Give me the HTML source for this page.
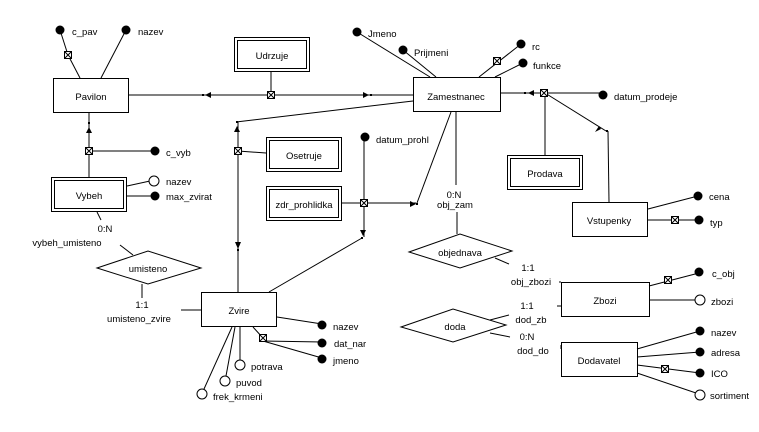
<!DOCTYPE html>
<html><head><meta charset="utf-8"><style>
html,body{margin:0;padding:0;background:#fff}
svg{display:block}
text{font-family:"Liberation Sans",sans-serif;font-size:9.5px;fill:#000}
</style></head><body>
<svg width="759" height="432" viewBox="0 0 759 432" xmlns="http://www.w3.org/2000/svg">
<defs>
<g id="k"><rect x="-3.5" y="-3.5" width="7" height="7"/><path d="M-3.5,-3.5L3.5,3.5M3.5,-3.5L-3.5,3.5" fill="none"/></g>
</defs>
<g stroke="#000" stroke-width="1" fill="none">
<rect x="53.5" y="78.5" width="75" height="34" fill="#fff"/>
<line x1="60" y1="30" x2="68" y2="55"/><line x1="68" y1="55" x2="80" y2="78"/>
<line x1="126" y1="30" x2="101" y2="78"/>
<rect x="234.5" y="37.5" width="75" height="34" fill="#fff"/>
<rect x="237.5" y="40.5" width="69" height="28"/>
<line x1="271" y1="71" x2="271" y2="95"/>
<line x1="128" y1="95" x2="413" y2="95"/>
<rect x="413.5" y="77.5" width="87" height="34" fill="#fff"/>
<line x1="413" y1="101" x2="236" y2="122"/>
<line x1="238" y1="122" x2="238" y2="292"/>
<line x1="238" y1="151" x2="266" y2="153"/>
<rect x="266.5" y="137.5" width="75" height="34" fill="#fff"/>
<rect x="269.5" y="140.5" width="69" height="28"/>
<rect x="266.5" y="186.5" width="75" height="34" fill="#fff"/>
<rect x="269.5" y="189.5" width="69" height="28"/>
<line x1="341" y1="203" x2="416" y2="203"/>
<line x1="364" y1="137" x2="364" y2="237"/>
<line x1="362" y1="238" x2="269" y2="292"/>
<line x1="451" y1="112" x2="417" y2="203"/>
<rect x="201.5" y="292.5" width="75" height="34" fill="#fff"/>
<line x1="277" y1="317" x2="322" y2="324"/>
<line x1="253" y1="327" x2="263" y2="338"/>
<line x1="263" y1="341" x2="322" y2="342"/>
<line x1="263" y1="341" x2="322" y2="358"/>
<line x1="240" y1="327" x2="240" y2="360"/>
<line x1="235" y1="327" x2="226" y2="376"/>
<line x1="232" y1="327" x2="204" y2="389"/>
<line x1="181" y1="310" x2="201" y2="310"/>
<polygon points="97,268 148,251 201,268 148,284" fill="#fff"/>
<line x1="97" y1="212" x2="101" y2="220"/>
<line x1="120" y1="245" x2="133" y2="255"/>
<line x1="142" y1="284" x2="142" y2="298"/>
<rect x="51.5" y="177.5" width="75" height="34" fill="#fff"/>
<rect x="54.5" y="180.5" width="69" height="28"/>
<line x1="89" y1="112" x2="89" y2="177"/>
<line x1="89" y1="151" x2="155" y2="151"/>
<line x1="127" y1="186" x2="150" y2="181"/>
<line x1="126" y1="196" x2="155" y2="196"/>
<line x1="357" y1="32" x2="430" y2="77"/>
<line x1="403" y1="50" x2="436" y2="77"/>
<line x1="521" y1="44" x2="479" y2="77"/>
<line x1="523" y1="63" x2="495" y2="77"/>
<line x1="500" y1="93" x2="603" y2="93"/>
<line x1="545" y1="93" x2="545" y2="155"/>
<line x1="545" y1="93" x2="606" y2="131"/>
<line x1="608" y1="131" x2="609" y2="202"/>
<rect x="507.5" y="155.5" width="75" height="34" fill="#fff"/>
<rect x="510.5" y="158.5" width="69" height="28"/>
<rect x="572.5" y="202.5" width="75" height="34" fill="#fff"/>
<line x1="648" y1="209" x2="698" y2="196"/>
<line x1="648" y1="220" x2="699" y2="220"/>
<line x1="456" y1="111" x2="456" y2="185"/>
<line x1="457" y1="212" x2="457" y2="234"/>
<polygon points="409,252 460,234 512,251 460,268" fill="#fff"/>
<line x1="495" y1="258" x2="509" y2="264"/>
<line x1="559" y1="282" x2="561" y2="282"/>
<rect x="561.5" y="282.5" width="88" height="34" fill="#fff"/>
<line x1="649" y1="286" x2="699" y2="273"/>
<line x1="649" y1="300" x2="695" y2="300"/>
<line x1="557" y1="306" x2="561" y2="306"/>
<polygon points="401,327 453,309 506,325 453,342" fill="#fff"/>
<line x1="490" y1="320" x2="509" y2="315"/>
<line x1="490" y1="333" x2="510" y2="337"/>
<line x1="561" y1="345" x2="561" y2="349"/>
<rect x="561.5" y="342.5" width="76" height="34" fill="#fff"/>
<line x1="637" y1="349" x2="700" y2="331"/>
<line x1="637" y1="357" x2="700" y2="352"/>
<line x1="637" y1="365" x2="700" y2="373"/>
<line x1="637" y1="373" x2="696" y2="393"/>
</g>
<g stroke="#000" stroke-width="1" fill="#fff">
<use href="#k" x="68" y="55"/><use href="#k" x="271" y="95"/><use href="#k" x="89" y="151"/>
<use href="#k" x="238" y="151"/><use href="#k" x="364" y="203"/><use href="#k" x="263" y="338"/>
<use href="#k" x="497" y="61"/><use href="#k" x="544" y="93"/><use href="#k" x="675" y="220"/>
<use href="#k" x="668" y="280"/><use href="#k" x="665" y="369"/>
</g>
<g fill="#000">
<circle cx="60" cy="30" r="4.5"/><circle cx="126" cy="30" r="4.5"/><circle cx="155" cy="151" r="4.5"/>
<circle cx="155" cy="196" r="4.5"/><circle cx="365" cy="137" r="4.5"/><circle cx="322" cy="325" r="4.5"/>
<circle cx="322" cy="343" r="4.5"/><circle cx="322" cy="359" r="4.5"/><circle cx="357" cy="32" r="4.5"/>
<circle cx="403" cy="50" r="4.5"/><circle cx="521" cy="44" r="4.5"/><circle cx="523" cy="63" r="4.5"/>
<circle cx="603" cy="95" r="4.5"/><circle cx="698" cy="196" r="4.5"/><circle cx="699" cy="220" r="4.5"/>
<circle cx="699" cy="272" r="4.5"/><circle cx="700" cy="331" r="4.5"/><circle cx="700" cy="352" r="4.5"/>
<circle cx="700" cy="373" r="4.5"/>
<polygon points="205,95 211,92 211,98"/><rect x="202" y="94" width="2" height="2"/>
<polygon points="369,95 363,92 363,98"/><rect x="370" y="94" width="2" height="2"/>
<polygon points="237,126 234,132 240,132"/><rect x="236" y="121" width="2" height="2"/>
<polygon points="89,127 86,133 92,133"/><rect x="88" y="122" width="2" height="2"/>
<polygon points="238,249 235,242 241,242"/><rect x="237" y="249" width="2" height="2"/>
<polygon points="416,204 410,201 410,207"/><rect x="416" y="203" width="2" height="2"/>
<polygon points="363,236 360,230 366,230"/><rect x="361" y="237" width="2" height="2"/>
<polygon points="528,93 534,90 534,96"/><rect x="524" y="92" width="2" height="2"/>
<polygon points="601,129 595,132 599,126"/><rect x="606" y="130" width="2" height="2"/>
</g>
<g stroke="#000" fill="#fff">
<circle cx="154" cy="181" r="5"/><circle cx="240" cy="365" r="5"/><circle cx="225" cy="381" r="5"/>
<circle cx="202" cy="394" r="5"/><circle cx="700" cy="300" r="5"/><circle cx="700" cy="395" r="5"/>
</g>
<g text-anchor="middle">
<text x="91" y="100">Pavilon</text><text x="272" y="59">Udrzuje</text><text x="456" y="100">Zamestnanec</text>
<text x="304" y="159">Osetruje</text><text x="304" y="208">zdr_prohlidka</text><text x="89" y="199">Vybeh</text>
<text x="239" y="314">Zvire</text><text x="148" y="272">umisteno</text><text x="545" y="177">Prodava</text>
<text x="609" y="224">Vstupenky</text><text x="460" y="256">objednava</text><text x="605" y="304">Zbozi</text>
<text x="455" y="330">doda</text><text x="599" y="364">Dodavatel</text>
<text x="105" y="232">0:N</text><text x="67" y="246">vybeh_umisteno</text>
<text x="142" y="308">1:1</text><text x="139" y="322">umisteno_zvire</text>
<text x="454" y="198">0:N</text><text x="455" y="208">obj_zam</text>
<text x="528" y="271">1:1</text><text x="531" y="285">obj_zbozi</text>
<text x="527" y="309">1:1</text><text x="531" y="323">dod_zb</text>
<text x="527" y="340">0:N</text><text x="533" y="354">dod_do</text>
</g>
<text x="72" y="35">c_pav</text><text x="138" y="35">nazev</text><text x="166" y="156">c_vyb</text>
<text x="166" y="185">nazev</text><text x="166" y="200">max_zvirat</text>
<text x="376" y="143">datum_prohl</text>
<text x="333" y="330">nazev</text><text x="334" y="347">dat_nar</text><text x="333" y="364">jmeno</text>
<text x="251" y="370">potrava</text><text x="236" y="386">puvod</text><text x="213" y="400">frek_krmeni</text>
<text x="368" y="37">Jmeno</text><text x="414" y="56">Prijmeni</text><text x="532" y="50">rc</text><text x="533" y="69">funkce</text>
<text x="614" y="100">datum_prodeje</text><text x="709" y="200">cena</text><text x="710" y="226">typ</text>
<text x="712" y="277">c_obj</text><text x="711" y="305">zbozi</text>
<text x="711" y="336">nazev</text><text x="711" y="356">adresa</text><text x="711" y="377">ICO</text><text x="710" y="399">sortiment</text>
</svg>
</body></html>
